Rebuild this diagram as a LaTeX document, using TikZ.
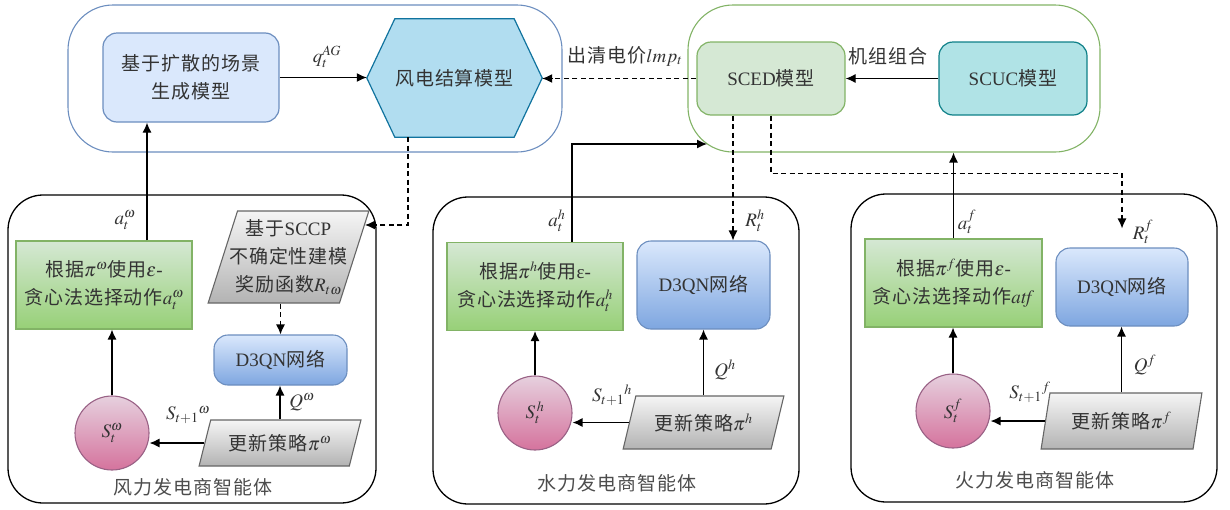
\documentclass[tikz,border=0pt]{standalone}
\usepackage{mathptmx}
\usepackage{fontspec}
\setmainfont{Liberation Serif}
\newfontfamily\cjk[LetterSpace=5]{Noto Sans CJK SC}
\usetikzlibrary{arrows.meta,shapes.geometric,backgrounds}

\definecolor{mdlline}{HTML}{6C8EBF}
\definecolor{mdlfill}{HTML}{DAE8FC}
\definecolor{hexline}{HTML}{10739E}
\definecolor{hexfill}{HTML}{B1DDF0}
\definecolor{mktline}{HTML}{82B366}
\definecolor{mktfill}{HTML}{D5E8D4}
\definecolor{ucline}{HTML}{0E8088}
\definecolor{ucfill}{HTML}{B0E3E6}
\definecolor{acttop}{HTML}{D5E8D4}
\definecolor{actbot}{HTML}{97D077}
\definecolor{nettop}{HTML}{DAE8FC}
\definecolor{netbot}{HTML}{7EA6E0}
\definecolor{sttop}{HTML}{E6D0DE}
\definecolor{stbot}{HTML}{D5739D}
\definecolor{stline}{HTML}{996185}
\definecolor{updtop}{HTML}{F5F5F5}
\definecolor{updbot}{HTML}{B3B3B3}
\definecolor{updline}{HTML}{666666}

\begin{document}
\begin{tikzpicture}[x=1pt,y=-1pt,font=\fontsize{19}{28}\selectfont\cjk,every node/.append style={text=black!80},
arr/.style={-{Latex[length=10pt,width=9pt]},line width=1.2pt},dsh/.style={arr,dash pattern=on 5pt off 3.5pt},
grp/.style={rectangle,draw=#1,line width=1.1pt,rounded corners=45pt},
agent/.style={rectangle,draw=black,line width=1.3pt,rounded corners=35pt},
model/.style n args={2}{rectangle,draw=#1,fill=#2,line width=1.2pt,rounded corners=14pt,align=center,inner sep=0pt,minimum width=148pt,minimum height=73pt},
act/.style={rectangle,draw=mktline,top color=acttop,bottom color=actbot,line width=1.1pt,align=center,inner sep=0pt,minimum width=176pt,minimum height=88pt},
net/.style={rectangle,draw=mdlline,top color=nettop,bottom color=netbot,line width=1.1pt,rounded corners=14pt,inner sep=0pt,minimum width=133pt},
stat/.style={circle,draw=stline,top color=sttop,bottom color=stbot,line width=1.1pt,minimum size=74pt,inner sep=0pt},
upd/.style 2 args={trapezium,trapezium left angle=#1,trapezium right angle=#2,trapezium stretches=true,draw=updline,top color=updtop,bottom color=updbot,line width=1.1pt,inner sep=0pt,minimum width=161pt,align=center},
lbl/.style={inner sep=0pt,font=\fontsize{19}{22}\selectfont}]
\useasboundingbox (0,0) rectangle (1230,509);

\node[grp=mdlline,minimum width=494pt,minimum height=147pt] (mdlgrp) at (315,78.5) {};
\node[grp=mktline,minimum width=412pt,minimum height=147pt] (mktgrp) at (894,78.5) {};
\node[model={mdlline}{mdlfill},minimum width=176pt,minimum height=89pt] (diffuse) at (191,77.5) {基于扩散的场景\\生成模型};
\node[rectangle,minimum width=175pt,minimum height=118pt,inner sep=0pt] (settle) at (454.5,78) {风电结算模型};
\begin{scope}[on background layer]
\draw[hexline,fill=hexfill,line width=1.2pt] (settle.west) -- ([xshift=28pt]settle.north west) -- ([xshift=-28pt]settle.north east)
   -- (settle.east) -- ([xshift=-28pt]settle.south east) -- ([xshift=28pt]settle.south west) -- cycle;
\end{scope}
\node[model={mktline}{mktfill}] (sced) at (771,78.5) {{\rmfamily SCED}模型};
\node[model={ucline}{ucfill}] (scuc) at (1013,78.5) {{\rmfamily SCUC}模型};

\node[agent,minimum width=368pt,minimum height=308pt] (wagent) at (192,349) {};
\node[agent,minimum width=366pt,minimum height=307pt] (hagent) at (616,350.5) {};
\node[agent,minimum width=366pt,minimum height=308pt] (fagent) at (1034,348) {};

% wind producer
\node[act] (wact) at (104,285) {根据$\pi^{\omega}$使用$\varepsilon${\rmfamily -}\\贪心法选择动作$a_t^{\omega}$};
\node[upd={70}{110},minimum height=92pt,inner xsep=-12pt] (sccp) at (288.5,257) {基于{\rmfamily SCCP}\\不确定性建模\\奖励函数$R_{t\omega}$};
\node[net,minimum height=50pt] (wnet) at (280.5,360) {{\rmfamily D3QN}网络};
\node[stat] (wstate) at (112,433) {$S_t^{\omega}$};
\node[upd={64}{116},minimum width=162pt,minimum height=46pt] (wupd) at (280,443) {更新策略$\pi^{\omega}$};
\node[text=black!70] (wtitle) at (193,487) {风力发电商智能体};

% hydro producer
\node[act] (hact) at (535,286.5) {根据$\pi^{h}$使用{\rmfamily ε-}\\贪心法选择动作$a_t^{h}$};
\node[net,minimum height=88pt] (hnet) at (703.5,285) {{\rmfamily D3QN}网络};
\node[stat] (hstate) at (535,413) {$S_t^{\,h}$};
\node[upd={63}{117},minimum height=53pt] (hupd) at (703.5,422.5) {更新策略$\pi^{h}$};
\node[text=black!70] (htitle) at (617,483) {水力发电商智能体};

% thermal producer
\node[act,minimum width=177pt] (fact) at (953.5,283) {根据$\pi^{f}$使用$\varepsilon${\rmfamily -}\\贪心法选择动作$\mathit{atf}$};
\node[net,minimum width=132pt,minimum height=78pt] (fnet) at (1122,287) {{\rmfamily D3QN}网络};
\node[stat] (fstate) at (953,411) {$S_t^{f}$};
\node[upd={71}{109},minimum height=56pt] (fupd) at (1121.5,421) {更新策略$\pi^{f}$};
\node[text=black!70] (ftitle) at (1035,480) {火力发电商智能体};

\coordinate (hin) at (707,144);
\coordinate (sccpin) at (365,225);
\coordinate (hR) at ([xshift=-38pt]sced.south);

\draw[arr] (diffuse.east) -- (diffuse.east -| settle.west);
\draw[arr] (scuc.west) -- (sced.east);
\draw[dsh] (sced.west) -- (sced.west -| settle.east);
\draw[arr] ([xshift=43pt]wact.north) -- ([xshift=43pt]wact.north |- diffuse.south);
\draw[arr] ([xshift=37pt]hact.north) |- (hin);
\draw[arr] (fact.north) -- (fact.north |- mktgrp.south);
\draw[dsh] ([xshift=-46.5pt]settle.south) |- (sccpin);
\draw[dsh] (hR) -- (hR |- hnet.north);
\draw[dsh] (sced.south) -- ++(0,58) -| ([yshift=19pt]fnet.north);
\draw[dsh] (sccp.south -| wnet.north) -- (wnet.north);
\foreach \p in {w,h,f} {
   \draw[arr] (\p state.north) -- (\p state.north |- \p act.south);
   \draw[arr] (\p upd.north) -- (\p upd.north |- \p net.south);
   \draw[arr] (\p upd.west) -- (\p upd.west -| \p state.east);
}

\node[lbl] (lq) at (327,57) {$q_t^{AG}$};
\node (llmp) at (625,56) {出清电价$lmp_t$};
\node (luc) at (888,56) {机组组合};
\node[lbl] (law) at (125,220) {$a_t^{\omega}$};
\node[lbl] (lqw) at (302,402) {$Q^{\omega}$};
\node[lbl] (lsw) at (188,415) {$S_{t+1}{}^{\omega}$};
\node[lbl] (lah) at (557,221) {$a_t^{h}$};
\node[lbl] (lrh) at (755,221) {$R_t^{h}$};
\node[lbl] (lqh) at (725,370) {$Q^{h}$};
\node[lbl] (lsh) at (612,395) {$S_{t+1}{}^{h}$};
\node[lbl] (laf) at (967,222) {$a_t^{f}$};
\node[lbl] (lrf) at (1143,232) {$R_t^{f}$};
\node[lbl] (lqf) at (1145,365) {$Q^{f}$};
\node[lbl] (lsf) at (1030,392) {$S_{t+1}{}^{f}$};
\end{tikzpicture}
\end{document}
